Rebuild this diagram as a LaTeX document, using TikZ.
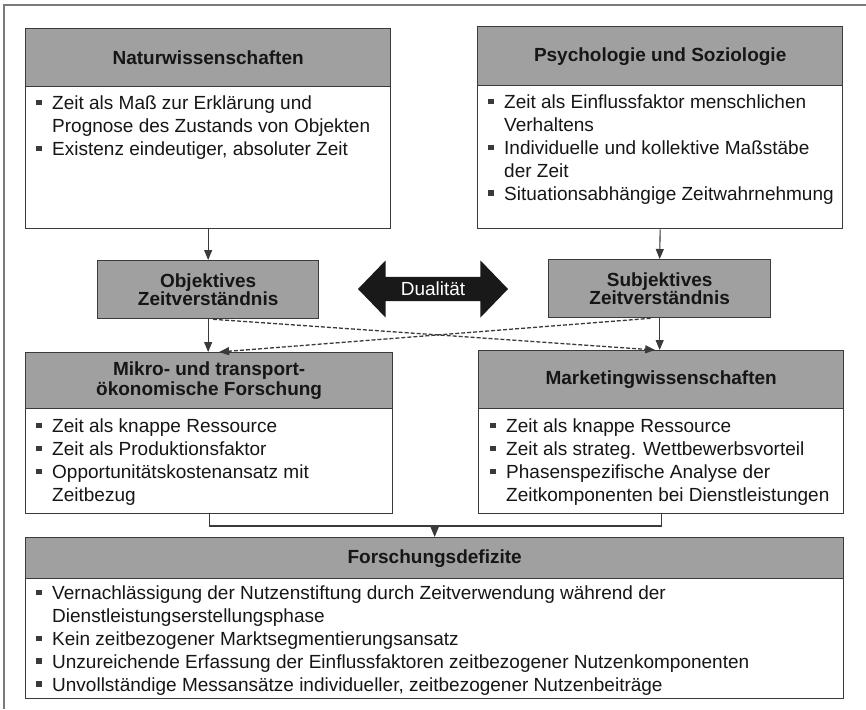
\documentclass[tikz,border=0pt]{standalone}
\usepackage{fontspec}
\setmainfont{Liberation Sans}
\usetikzlibrary{arrows.meta,shapes.arrows}
\definecolor{hdrgray}{HTML}{A0A0A0}
\definecolor{linegray}{HTML}{3A3A3A}
\definecolor{framegray}{HTML}{7A7A7A}
\definecolor{txtcol}{HTML}{161616}
\newcommand\bul{\makebox[16pt][l]{\textcolor{linegray}{\rule[4.5pt]{5.5pt}{5.5pt}}}}
\newcommand\ind{\hspace*{16pt}}
\begin{document}
\begin{tikzpicture}[x=1pt,y=-1pt,
  every node/.style={font=\fontsize{19}{22.8}\selectfont, text=txtcol},
  hdr/.style={draw=linegray, line width=1.3pt, fill=hdrgray, anchor=north west,
    inner sep=0pt, font=\bfseries\fontsize{19}{19.5}\selectfont, align=center},
  bodybox/.style={draw=linegray, line width=1.3pt, fill=white, anchor=north west, inner sep=0pt},
  bodytext/.style={anchor=north west, align=left, inner sep=0pt},
  conn/.style={draw=linegray, line width=1.1pt},
  arrowtip/.style={-{Triangle[length=10pt,width=8pt]}},
  dashconn/.style={draw=linegray, line width=1.3pt, dash pattern=on 4pt off 2pt}
]
\useasboundingbox (0,0) rectangle (866,709);
% outer frame (only top and left edges visible)
\coordinate (fTL) at (4,5);
\coordinate (fTR) at (866,5);
\coordinate (fBL) at (4,709);
\draw[framegray, line width=1.3pt] (fTR) -- (fTL) -- (fBL);

% Naturwissenschaften
\node[hdr, minimum width=365, minimum height=58] (natH) at (25,28) {Naturwissenschaften};
\node[bodybox, minimum width=365, minimum height=142] (natB) at (25,86) {};
\node[bodytext] (natT) at (36,96) {\bul Zeit als Maß zur Erklärung und\\
  \ind Prognose des Zustands von Objekten\\
  \bul Existenz eindeutiger, absoluter Zeit};

% Psychologie und Soziologie
\node[hdr, minimum width=365, minimum height=59] (psyH) at (477,26) {Psychologie und Soziologie};
\node[bodybox, minimum width=365, minimum height=143] (psyB) at (477,85) {};
\node[bodytext] (psyT) at (488,95) {\bul Zeit als Einflussfaktor menschlichen\\
  \ind Verhaltens\\
  \bul Individuelle und kollektive Maßstäbe\\
  \ind der Zeit\\
  \bul Situationsabhängige Zeitwahrnehmung};

% Objektives / Subjektives Zeitverstaendnis
\node[hdr, minimum width=221, minimum height=58, font=\bfseries\fontsize{19}{17}\selectfont] (obj) at (97,260) {Objektives\\Zeitverständnis};
\node[hdr, minimum width=222, minimum height=58, font=\bfseries\fontsize{19}{17}\selectfont] (subj) at (548,259) {Subjektives\\Zeitverständnis};

% Dualitaet
\node[double arrow, fill=black!90, draw=none, text=white, minimum height=150pt,
  minimum width=57pt, double arrow head extend=12.5pt, inner xsep=2pt, inner ysep=2pt,
  double arrow tip angle=92] (dual) at (433,289) {Dualität};

% Mikro- und transportoekonomische Forschung
\node[hdr, minimum width=367, minimum height=56, font=\bfseries\fontsize{19}{20}\selectfont] (mikH) at (25,352) {Mikro- und transport-\\ökonomische Forschung};
\node[bodybox, minimum width=367, minimum height=105] (mikB) at (25,408) {};
\node[bodytext] (mikT) at (36,419) {\bul Zeit als knappe Ressource\\
  \bul Zeit als Produktionsfaktor\\
  \bul Opportunitätskostenansatz mit\\
  \ind Zeitbezug};

% Marketingwissenschaften
\node[hdr, minimum width=365, minimum height=58] (mktH) at (478,350) {Marketingwissenschaften};
\node[bodybox, minimum width=365, minimum height=105] (mktB) at (478,408) {};
\node[bodytext] (mktT) at (490,419) {\bul Zeit als knappe Ressource\\
  \bul Zeit als strateg. Wettbewerbsvorteil\\
  \bul Phasenspezifische Analyse der\\
  \ind Zeitkomponenten bei Dienstleistungen};

% Forschungsdefizite
\node[hdr, minimum width=818, minimum height=41] (forH) at (25,537) {Forschungsdefizite};
\node[bodybox, minimum width=818, minimum height=120] (forB) at (25,578) {};
\node[bodytext] (forT) at (36,586) {\bul Vernachlässigung der Nutzenstiftung durch Zeitverwendung während der\\
  \ind Dienstleistungserstellungsphase\\
  \bul Kein zeitbezogener Marktsegmentierungsansatz\\
  \bul Unzureichende Erfassung der Einflussfaktoren zeitbezogener Nutzenkomponenten\\
  \bul Unvollständige Messansätze individueller, zeitbezogener Nutzenbeiträge};

% connectors
\draw[conn, arrowtip] (natB.south) -- (obj.north);
\draw[conn, arrowtip] (psyB.south) -- (subj.north);
\draw[conn, arrowtip] (obj.south) -- (mikH.north -| obj.south);
\draw[conn, arrowtip] (subj.south) -- (mktH.north -| subj.south);
\draw[dashconn, arrowtip] ([xshift=5pt]obj.south) -- ([xshift=-6pt]mktH.north);
\draw[dashconn, arrowtip] ([xshift=-9pt]subj.south) -- ([xshift=10pt]mikH.north);
\coordinate (join) at (forH.north |- 0,526);
\draw[conn] (mikB.south) |- (join) -| (mktB.south);
\draw[conn, arrowtip] (join) -- (forH.north);
\end{tikzpicture}
\end{document}
